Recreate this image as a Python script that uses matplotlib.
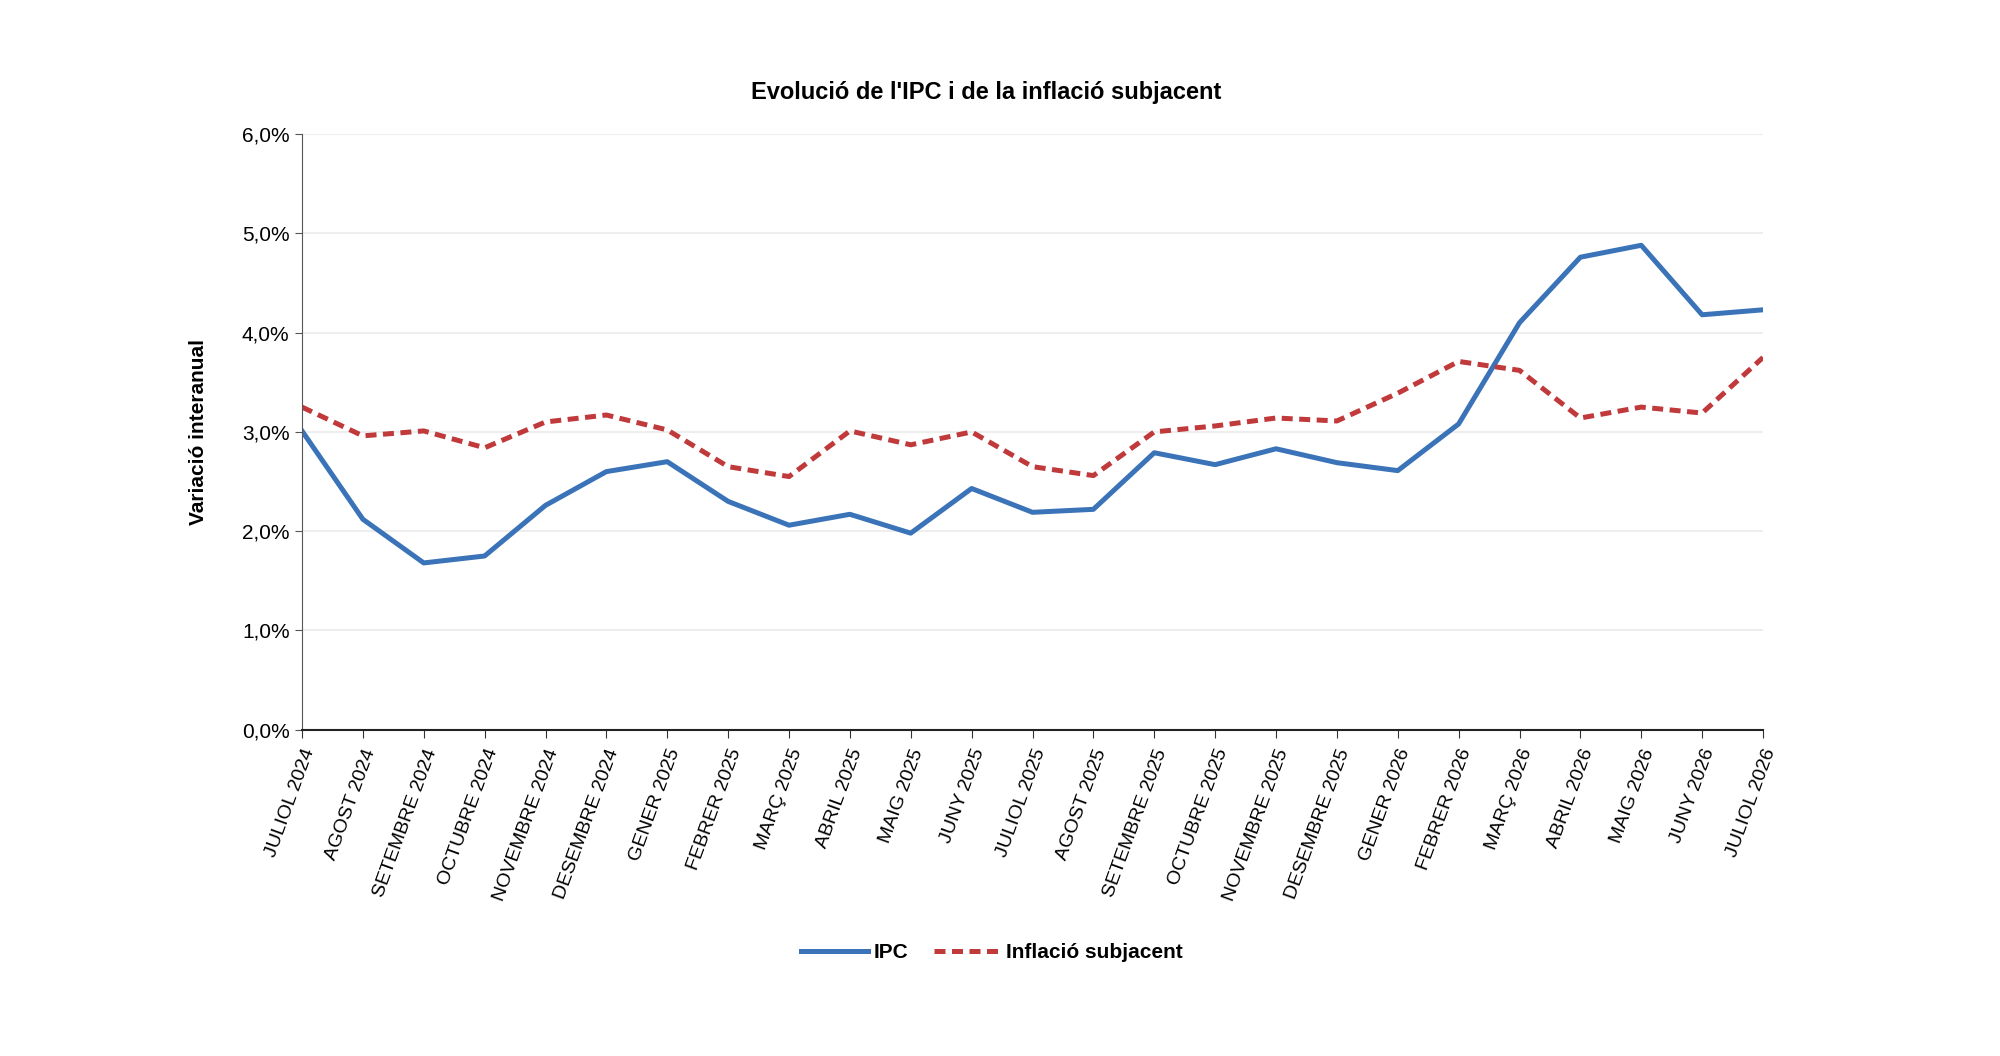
import numpy as np
import matplotlib.pyplot as plt
from matplotlib.ticker import FuncFormatter

# dades
mesos = ['JULIOL 2024', 'AGOST 2024', 'SETEMBRE 2024', 'OCTUBRE 2024', 'NOVEMBRE 2024',
         'DESEMBRE 2024', 'GENER 2025', 'FEBRER 2025', 'MARÇ 2025', 'ABRIL 2025',
         'MAIG 2025', 'JUNY 2025', 'JULIOL 2025', 'AGOST 2025', 'SETEMBRE 2025',
         'OCTUBRE 2025', 'NOVEMBRE 2025', 'DESEMBRE 2025', 'GENER 2026', 'FEBRER 2026',
         'MARÇ 2026', 'ABRIL 2026', 'MAIG 2026', 'JUNY 2026', 'JULIOL 2026']
ipc = [3.01, 2.12, 1.68, 1.75, 2.26, 2.60, 2.70, 2.30, 2.06, 2.17, 1.98, 2.43, 2.19,
       2.22, 2.79, 2.67, 2.83, 2.69, 2.61, 3.08, 4.10, 4.76, 4.88, 4.18, 4.23]
subjacent = [3.25, 2.96, 3.01, 2.84, 3.10, 3.17, 3.02, 2.65, 2.55, 3.01, 2.87, 3.00, 2.65,
             2.56, 3.00, 3.06, 3.14, 3.11, 3.39, 3.71, 3.62, 3.14, 3.25, 3.19, 3.75]

plt.rcParams['font.family'] = ['Liberation Sans', 'DejaVu Sans']

fig = plt.figure(figsize=(20, 10.56), dpi=100)
ax = fig.add_axes([0.151, 0.309, 0.7305, 0.564])

x = np.arange(len(mesos))
ax.plot(x, ipc, color='#3a73b8', linewidth=3.6, label='IPC')
ax.plot(x, subjacent, color='#c0393b', linewidth=3.6, linestyle=(0, (2.2, 1.3)),
        label='Inflació subjacent')

ax.set_xlim(0, len(mesos) - 1)
ax.set_ylim(0, 6)
ax.set_yticks(np.arange(0, 7, 1))
ax.yaxis.set_major_formatter(FuncFormatter(lambda v, p: f'{v:.1f}%'.replace('.', ',')))
ax.grid(axis='y', color='#eeeeee', linewidth=1.5)
ax.set_axisbelow(True)

ax.set_xticks(x)
ax.set_xticklabels(mesos, rotation=70, ha='right', rotation_mode='anchor', fontsize=14)
ax.tick_params(axis='y', labelsize=15, length=5, color='#555555', pad=4)
ax.tick_params(axis='x', length=6, color='#333333', pad=6)

for s in ['top', 'right']:
    ax.spines[s].set_visible(False)
ax.spines['left'].set_color('#555555')
ax.spines['bottom'].set_color('#222222')
ax.spines['bottom'].set_linewidth(1.5)

ax.set_ylabel('Variació interanual', fontsize=15, fontweight='bold', labelpad=24)
fig.text(0.493, 0.912, "Evolució de l'IPC i de la inflació subjacent", fontsize=17,
         fontweight='bold', ha='center', va='center')

leg = fig.legend(loc='center', bbox_to_anchor=(0.496, 0.098), ncol=2, frameon=False,
                 prop={'size': 15, 'weight': 'bold'}, handlelength=3.2, columnspacing=1.2,
                 handletextpad=0.3)

fig.savefig('out.png', dpi=100)
